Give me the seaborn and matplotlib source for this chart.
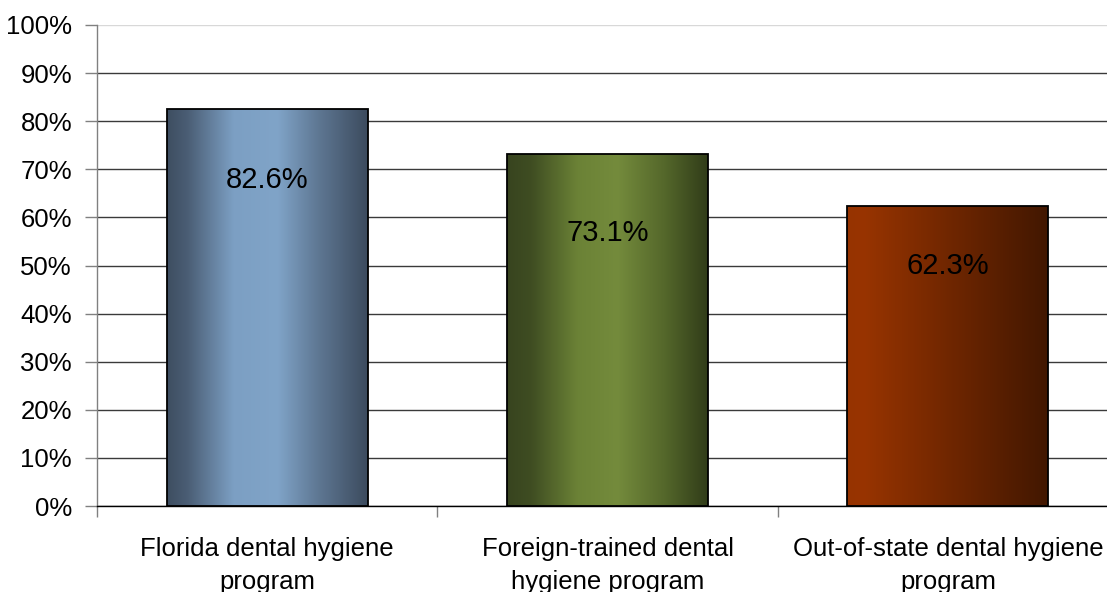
import numpy as np
import pandas as pd
import matplotlib
matplotlib.use("Agg")
import matplotlib.pyplot as plt
from matplotlib.colors import LinearSegmentedColormap
from matplotlib.ticker import FixedLocator
import seaborn as sns

categories = ["Florida dental hygiene\nprogram",
              "Foreign-trained dental\nhygiene program",
              "Out-of-state dental hygiene\nprogram"]
values = [82.6, 73.1, 62.3]
label_frac = [0.82, 0.777, 0.80]

gradients = [
    [(0.0, "#3e4e61"), (0.1, "#4a5d74"), (0.33, "#7c9fc3"), (0.55, "#80a4c8"),
     (0.75, "#5f7894"), (1.0, "#3c4b5e")],
    [(0.0, "#38441f"), (0.12, "#3f4d22"), (0.35, "#6b8236"), (0.55, "#748b3c"),
     (0.78, "#55682b"), (1.0, "#313c19")],
    [(0.0, "#963300"), (0.08, "#983400"), (1.0, "#421700")],
]

sns.set_theme(style="white")
plt.rcParams['font.family'] = ['Liberation Sans', 'DejaVu Sans']

fig = plt.figure(figsize=(11.07, 5.92), dpi=100)
ax = fig.add_axes([97/1107, 86/592, 1021/1107, 481/592])

df = pd.DataFrame({"cat": categories, "val": values})
sns.barplot(data=df, x="cat", y="val", ax=ax, width=0.59, color="white",
            edgecolor="black", linewidth=1.3, zorder=3)

for i, patch in enumerate(ax.patches):
    x0, y0 = patch.get_x(), patch.get_y()
    w, h = patch.get_width(), patch.get_height()
    cmap = LinearSegmentedColormap.from_list(f"g{i}", gradients[i])
    grad = np.linspace(0, 1, 256).reshape(1, -1)
    im = ax.imshow(grad, cmap=cmap, aspect="auto", extent=(x0, x0 + w, y0, y0 + h),
                   zorder=3.5, interpolation="bilinear")
    im.set_clip_path(patch)
    patch.set_facecolor("none")
    patch.set_zorder(4)
    ax.text(x0 + w / 2, values[i] * label_frac[i], f"{values[i]:.1f}%",
            ha="center", va="center", fontsize=21, color="black", zorder=5)

ax.set_xlim(-0.5, 2.5)
ax.set_ylim(0, 100)
ax.set_yticks(np.arange(0, 101, 10))
ax.set_yticklabels([f"{t}%" for t in range(0, 101, 10)])
ax.grid(axis="y", color="#3a3a3a", linewidth=1.0, zorder=1)
ax.grid(axis="x", visible=False)
gl = ax.yaxis.get_gridlines()
gl[-1].set_color("#d8d8d8")

ax.set_xlabel("")
ax.set_ylabel("")
ax.xaxis.set_minor_locator(FixedLocator([-0.5, 0.5, 1.5, 2.5]))
ax.tick_params(axis="x", which="major", length=0, pad=22, labelsize=18.5, colors="black")
ax.tick_params(axis="x", which="minor", length=8, width=1, color="#808080", direction="out", bottom=True)
ax.tick_params(axis="y", which="major", length=9, width=1, color="#808080", direction="out",
               left=True, pad=9, labelsize=18.5, labelcolor="black")
for lbl in ax.get_xticklabels():
    lbl.set_linespacing(1.5)

for s in ["top", "right"]:
    ax.spines[s].set_visible(False)
ax.spines["left"].set_color("#808080")
ax.spines["left"].set_linewidth(1)
ax.spines["bottom"].set_color("#000000")
ax.spines["bottom"].set_linewidth(1)

fig.savefig("out.png", dpi=100)
